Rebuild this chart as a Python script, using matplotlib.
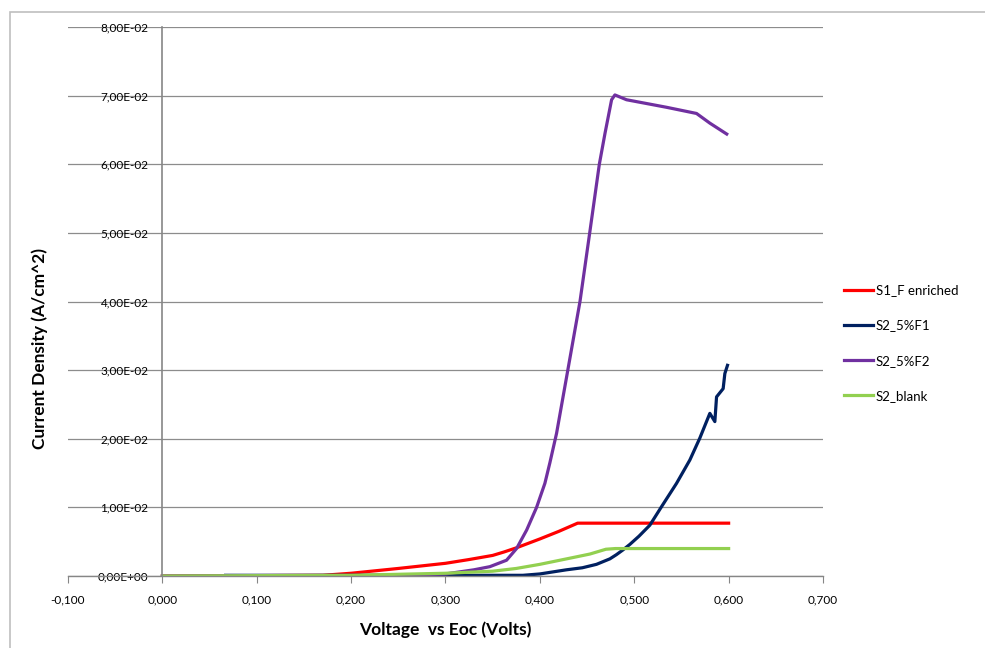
import matplotlib
matplotlib.use("Agg")
import matplotlib.pyplot as plt
from matplotlib.patches import Rectangle
from matplotlib.ticker import FuncFormatter, MultipleLocator

plt.rcParams['font.family'] = ['Lato', 'DejaVu Sans']

# ---- data ----
red_x = [0.0, 0.17, 0.2, 0.25, 0.3, 0.325, 0.35, 0.362, 0.375, 0.4, 0.42, 0.44, 0.6]
red_y = [0.0, 0.0001, 0.0004, 0.0011, 0.00185, 0.0024, 0.0030, 0.0035, 0.0041, 0.0054, 0.0065, 0.0077, 0.0077]

navy_x = [0.067, 0.2, 0.3, 0.382, 0.40, 0.428, 0.445, 0.46, 0.4742, 0.481, 0.488, 0.4953, 0.505, 0.5165,
          0.5289, 0.5448, 0.5589, 0.5695, 0.5801, 0.5854, 0.5872, 0.5942, 0.596, 0.5988]
navy_y = [0.0001, 0.0001, 0.0001, 0.0001, 0.0003, 0.0009, 0.0012, 0.0017, 0.0025, 0.0031, 0.0038, 0.0046, 0.0058, 0.0074,
          0.0101, 0.0135, 0.0169, 0.0201, 0.0237, 0.0225, 0.0261, 0.0273, 0.0295, 0.0307]

purple_x = [0.0, 0.25, 0.3, 0.33, 0.347, 0.3647, 0.3753, 0.386, 0.3965, 0.4053, 0.4106, 0.4177, 0.4296,
            0.4425, 0.4528, 0.463, 0.469, 0.476, 0.4795, 0.4918, 0.5342, 0.566, 0.58, 0.598]
purple_y = [0.0, 0.0001, 0.0003, 0.0009, 0.00136, 0.0023, 0.004, 0.0067, 0.01, 0.0135, 0.0165, 0.0208, 0.03,
            0.04, 0.05, 0.06, 0.0645, 0.0694, 0.0701, 0.0694, 0.0683, 0.0674, 0.066, 0.0644]

green_x = [0.0, 0.2, 0.3, 0.35, 0.375, 0.4, 0.439, 0.453, 0.47, 0.48, 0.6]
green_y = [0.0, 0.0001, 0.0004, 0.0007, 0.0011, 0.0017, 0.0028, 0.0032, 0.0039, 0.0040, 0.0040]

series_names = ["S1_F enriched", "S2_5%F1", "S2_5%F2", "S2_blank"]
series_colors = ["#FF0000", "#002060", "#7030A0", "#92D050"]

# ---- figure ----
W, H = 985, 648
fig = plt.figure(figsize=(W / 100, H / 100), dpi=100)
fig.patches.append(Rectangle((10 / W, -0.1), 1.2, 1 - 12 / H + 0.1, transform=fig.transFigure,
                             fill=False, edgecolor="#BFBFBF", linewidth=1.2))

ax = fig.add_axes([68 / W, 1 - 576 / H, (823 - 68) / W, (576 - 27) / H])
ax.set_xlim(-0.1, 0.7)
ax.set_ylim(0, 0.08)

data = [(red_x, red_y), (navy_x, navy_y), (purple_x, purple_y), (green_x, green_y)]
for (xs, ys), name, c in zip(data, series_names, series_colors):
    ax.plot(xs, ys, color=c, linewidth=2.3, label=name, solid_joinstyle='round')

ax.xaxis.set_major_locator(MultipleLocator(0.1))
ax.yaxis.set_major_locator(MultipleLocator(0.01))
ax.xaxis.set_major_formatter(FuncFormatter(lambda v, p: f"{v:.3f}".replace(".", ",").replace("-0,000", "0,000")))

def yfmt(v, p):
    if abs(v) < 1e-12:
        return "0,00E+00"
    return f"{v:.2E}".replace(".", ",")
ax.yaxis.set_major_formatter(FuncFormatter(yfmt))

ax.grid(axis='y', color="#8C8C8C", linewidth=0.9)
ax.set_axisbelow(True)
for s in ['top', 'right']:
    ax.spines[s].set_visible(False)
ax.spines['left'].set_position(('data', 0))
ax.spines['left'].set_color("#868686")
ax.spines['left'].set_linewidth(1.2)
ax.spines['bottom'].set_color("#868686")
ax.spines['bottom'].set_linewidth(1.0)
ax.tick_params(axis='x', direction='out', length=5, color="#868686", labelsize=8.5, pad=8)
ax.tick_params(axis='y', direction='out', length=0, color="#868686", labelsize=8.5, pad=10)

ax.set_xlabel("Voltage  vs Eoc (Volts)", fontsize=12.5, fontweight='bold', labelpad=12)
fig.text(40 / W, 1 - 348 / H, "Current Density (A/cm^2)", rotation=90, fontsize=12.5,
         fontweight='bold', ha='center', va='center')

leg = ax.legend(loc='center left', bbox_to_anchor=(832 / W, 1 - 343 / H), bbox_transform=fig.transFigure,
                frameon=False, fontsize=9.5, handlelength=2.2, handletextpad=0.2, labelspacing=1.75)

fig.savefig("out.png", dpi=100)
